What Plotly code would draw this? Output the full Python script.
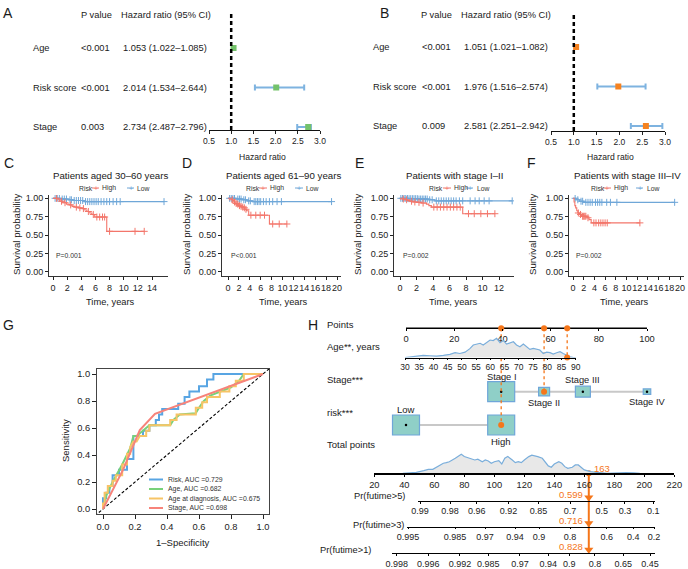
import plotly.graph_objects as go

W, H = 688, 569
FONT = "Liberation Sans, Arial, Helvetica, sans-serif"
INK = "#1a1a1a"
RED = "#f3766b"
BLUE = "#6fa7d8"
ORANGE = "#f5761a"

# ======================= DATA =======================
# A / B : Cox regression
cox_vars = ["Age", "Risk score", "Stage"]
A_pval = ["<0.001", "<0.001", "0.003"]
A_hr = [1.053, 2.014, 2.734]
A_low = [1.022, 1.534, 2.487]
A_high = [1.085, 2.644, 2.796]
B_pval = ["<0.001", "<0.001", "0.009"]
B_hr = [1.051, 1.976, 2.581]
B_low = [1.021, 1.516, 2.251]
B_high = [1.082, 2.574, 2.942]
hr_ticks = [0.5, 1.0, 1.5, 2.0, 2.5, 3.0]

# C-F : Kaplan-Meier curves (step times / survival, censor times)
C_high_t = [0, 0.7, 1.0, 1.4, 1.9, 2.3, 2.7, 3.1, 3.6, 4.1, 4.5, 4.8, 5.2, 5.5, 5.9, 7.6, 12.9]
C_high_s = [1.0, 0.98, 0.96, 0.94, 0.92, 0.91, 0.89, 0.88, 0.87, 0.86, 0.84, 0.82, 0.80, 0.78, 0.745, 0.55, 0.55]
C_high_c = [0.5, 1.2, 1.7, 2.5, 3.3, 3.8, 4.3, 5.0, 5.7, 6.2, 6.6, 7.0, 7.3, 8.0, 11.6, 12.9]
C_low_t = [0, 1.0, 2.2, 2.8, 4.4, 15.7]
C_low_s = [1.0, 0.99, 0.98, 0.97, 0.955, 0.955]
C_low_c = [0.3, 0.6, 0.9, 1.3, 1.6, 1.9, 2.4, 2.6, 3.0, 3.3, 3.6, 3.9, 4.2, 4.6, 4.9, 5.2, 5.5,
           5.8, 6.1, 6.4, 6.8, 7.2, 7.6, 8.0, 8.5, 9.0, 9.5, 15.7]

D_high_t = [0, 0.6, 0.9, 1.1, 1.3, 1.6, 1.9, 2.2, 2.5, 2.8, 3.1, 3.4, 3.8, 7.6, 10.8]
D_high_s = [1.0, 0.98, 0.97, 0.95, 0.93, 0.92, 0.90, 0.89, 0.88, 0.87, 0.85, 0.83, 0.77, 0.65, 0.65]
D_high_c = [0.8, 1.2, 1.5, 1.8, 2.1, 2.4, 2.7, 3.0, 3.3, 4.2, 5.1, 5.9, 6.7, 8.2, 9.4, 10.8]
D_low_t = [0, 1.5, 2.6, 3.5, 4.5, 19.0]
D_low_s = [1.0, 0.99, 0.98, 0.965, 0.955, 0.955]
D_low_c = [0.3, 0.6, 0.9, 1.2, 1.8, 2.1, 2.4, 2.9, 3.2, 3.8, 4.1, 4.8, 5.1, 5.4, 5.7, 6.0, 6.5,
           7.0, 7.6, 8.2, 9.0, 9.8, 19.0]

E_high_t = [0, 0.3, 0.6, 0.9, 1.2, 1.6, 2.0, 2.6, 3.2, 3.5, 3.8, 7.6, 11.5]
E_high_s = [1.0, 0.99, 0.98, 0.97, 0.96, 0.95, 0.945, 0.935, 0.92, 0.90, 0.88, 0.79, 0.79]
E_high_c = [0.4, 0.8, 1.4, 1.8, 2.3, 2.8, 4.1, 4.5, 4.9, 5.3, 5.7, 6.1, 6.5, 6.9, 7.3, 8.3, 9.0,
            9.8, 10.6, 11.5]
E_low_t = [0, 1.0, 2.2, 3.4, 4.2, 13.6]
E_low_s = [1.0, 0.995, 0.99, 0.98, 0.965, 0.965]
E_low_c = [0.1, 0.3, 0.5, 0.7, 0.9, 1.1, 1.3, 1.5, 1.7, 1.9, 2.1, 2.3, 2.5, 2.7, 2.9, 3.1, 3.3,
           3.6, 3.9, 4.4, 4.7, 5.0, 5.3, 5.6, 5.9, 6.2, 6.5, 6.8, 7.2, 7.6, 8.5, 9.1, 9.6, 10.2,
           10.8, 13.6]

F_high_t = [0, 0.2, 0.35, 0.5, 0.7, 0.9, 1.2, 1.6, 2.6, 3.0, 3.4, 12.5]
F_high_s = [1.0, 0.95, 0.90, 0.87, 0.83, 0.80, 0.78, 0.755, 0.735, 0.71, 0.665, 0.665]
F_high_c = [1.0, 1.4, 1.8, 2.0, 2.2, 2.4, 2.8, 3.9, 4.3, 4.8, 5.2, 5.6, 6.0, 6.4, 12.5]
F_low_t = [0, 0.6, 1.2, 2.0, 19.0]
F_low_s = [1.0, 0.98, 0.96, 0.945, 0.945]
F_low_c = [0.4, 0.9, 1.5, 1.8, 2.4, 2.8, 3.2, 3.6, 4.2, 4.6, 5.0, 5.4, 6.3, 7.0, 8.2, 19.0]

km_titles = ["Patients aged 30–60 years", "Patients aged 61–90 years",
             "Patients with stage I–II", "Patients with stage III–IV"]
km_pvals = ["P=0.001", "P<0.001", "P=0.002", "P=0.002"]
km_surv_ticks = [0, 0.25, 0.5, 0.75, 1.0]
km_xmax = [14, 20, 12, 20]

# G : ROC curves
roc_names = ["Risk", "Age", "Age at diagnosis", "Stage"]
roc_auc = [0.729, 0.682, 0.675, 0.698]
roc_risk_fpr = [0, 0, 0.02, 0.02, 0.04, 0.04, 0.06, 0.06, 0.10, 0.10, 0.15, 0.15, 0.19, 0.19, 0.25,
                0.25, 0.29, 0.29, 0.33, 0.33, 0.35, 0.35, 0.37, 0.37, 0.47, 0.47, 0.51, 0.51, 0.54,
                0.54, 0.60, 0.60, 0.65, 0.65, 0.69, 0.69, 1.0]
roc_risk_tpr = [0, 0.08, 0.08, 0.12, 0.12, 0.17, 0.17, 0.25, 0.25, 0.29, 0.29, 0.37, 0.37, 0.54, 0.54,
                0.58, 0.58, 0.62, 0.62, 0.66, 0.66, 0.70, 0.70, 0.74, 0.74, 0.78, 0.78, 0.83, 0.83,
                0.87, 0.87, 0.91, 0.91, 0.96, 0.96, 1.0, 1.0]
roc_age_fpr = [0, 0.02, 0.06, 0.12, 0.17, 0.19, 0.21, 0.25, 0.29, 0.42, 0.44, 0.48, 0.58, 0.60,
               0.63, 0.67, 0.73, 0.80, 0.85, 0.88, 1.0]
roc_age_tpr = [0, 0.10, 0.20, 0.33, 0.45, 0.54, 0.54, 0.58, 0.62, 0.62, 0.66, 0.70, 0.71, 0.75,
               0.80, 0.84, 0.87, 0.90, 0.95, 1.0, 1.0]
roc_dx_fpr = [0, 0, 0.01, 0.01, 0.03, 0.03, 0.06, 0.06, 0.08, 0.08, 0.12, 0.12, 0.15, 0.15, 0.17,
              0.17, 0.19, 0.21, 0.23, 0.27, 0.27, 0.29, 0.29, 0.42, 0.42, 0.46, 0.46, 0.58, 0.58,
              0.62, 0.62, 0.65, 0.65, 0.73, 0.73, 0.79, 0.79, 0.83, 0.83, 0.88, 0.88, 1.0]
roc_dx_tpr = [0, 0.04, 0.04, 0.12, 0.12, 0.17, 0.17, 0.21, 0.21, 0.25, 0.25, 0.33, 0.33, 0.41, 0.41,
              0.46, 0.50, 0.50, 0.54, 0.54, 0.58, 0.58, 0.62, 0.62, 0.66, 0.66, 0.70, 0.70, 0.75,
              0.75, 0.79, 0.79, 0.83, 0.83, 0.87, 0.87, 0.91, 0.91, 0.95, 0.95, 1.0, 1.0]
roc_stage_fpr = [0, 0.125, 0.23, 0.325, 1.0]
roc_stage_tpr = [0, 0.29, 0.585, 0.705, 1.0]
roc_ticks = [0, 0.2, 0.4, 0.6, 0.8, 1.0]

# H : nomogram
points_ticks = [0, 20, 40, 60, 80, 100]
age_ticks = [30, 35, 40, 45, 50, 55, 60, 65, 70, 75, 80, 85, 90]
age_points_at_90 = 70.4
age_dens_x = [30, 31.8, 34.1, 36.4, 38.8, 41.1, 43.5, 45.8, 47.6, 49.3, 51.1, 52.8, 54, 55.2, 56.4,
              57.5, 58.7, 59.9, 61, 62.2, 63.4, 64.6, 65.7, 66.9, 68.1, 69.2, 70.4, 71.6, 72.8,
              73.9, 75.1, 76.3, 77.4, 78.6, 79.8, 81, 82.1, 83.3, 84.5, 85.6, 86.8, 88, 89.2, 90.3]
age_dens_y = [0, 0.04, 0.09, 0.11, 0.09, 0.07, 0.11, 0.16, 0.25, 0.21, 0.28, 0.46, 0.65, 0.70, 0.74,
              0.65, 0.79, 0.91, 0.88, 1.0, 0.77, 0.88, 0.70, 0.77, 0.82, 0.65, 0.56, 0.70, 0.56,
              0.42, 0.47, 0.42, 0.39, 0.21, 0.28, 0.25, 0.18, 0.25, 0.30, 0.21, 0.12, 0.04, 0, 0]
stage_levels = ["Stage I", "Stage II", "Stage III", "Stage IV"]
stage_points = [39.5, 57.3, 73.4, 100]
risk_levels = ["Low", "High"]
risk_points = [0, 39.5]
total_ticks = [20, 40, 60, 80, 100, 120, 140, 160, 180, 200, 220]
tot_dens_x = [39, 44, 48, 53, 56, 59, 62, 64, 66, 68, 70, 74, 77, 78, 80, 83, 85, 87, 89, 92, 94, 96,
              98, 100, 103, 105, 107, 109, 112, 114, 116, 118, 120, 123, 125, 127, 129, 132, 134,
              136, 138, 140, 143, 145, 147, 149, 152, 154, 156, 158, 160, 164, 167, 170, 175, 179,
              184, 188, 193, 197]
tot_dens_y = [0, 0.04, 0.05, 0.14, 0.21, 0.21, 0.35, 0.44, 0.53, 0.56, 0.61, 0.79, 0.96, 1.0, 0.88,
              0.79, 0.74, 0.70, 0.74, 0.61, 0.70, 0.65, 0.53, 0.61, 0.67, 0.49, 0.79, 0.88, 0.70,
              0.56, 0.61, 0.56, 0.70, 0.88, 0.95, 0.93, 0.88, 0.79, 0.61, 0.39, 0.32, 0.49, 0.61,
              0.53, 0.35, 0.26, 0.32, 0.44, 0.44, 0.32, 0.18, 0.09, 0.05, 0.04, 0, 0.02, 0.04, 0.04,
              0.02, 0]
pr5_labels = ["0.99", "0.98", "0.96", "0.92", "0.85", "0.7", "0.5", "0.3", "0.1"]
pr5_at_total = [50.5, 70.5, 88.3, 109.4, 129.4, 150.5, 171.6, 187.1, 206.0]
pr3_labels = ["0.995", "0.985", "0.97", "0.94", "0.9", "0.8", "0.6", "0.4", "0.2"]
pr3_at_total = [42.5, 73.8, 93.8, 113.8, 129.8, 150.5, 175.0, 192.7, 206.5]
pr1_labels = ["0.998", "0.996", "0.992", "0.985", "0.97", "0.94", "0.9", "0.8", "0.65", "0.45"]
pr1_at_total = [34.9, 56.0, 77.1, 96.0, 117.1, 135.9, 149.9, 167.1, 186.0, 203.8]
patient_age = 87
patient_stage = 1
patient_risk = 1
patient_total = 163
patient_pr = [0.599, 0.716, 0.828]

# ======================= HELPERS =======================
def px(p): return p / W
def py(p): return 1 - p / H
def dx(a, b): return [a / W, b / W]
def dy(top, bottom): return [1 - bottom / H, 1 - top / H]
def cal(p0, v0, p1, v1):
    k = (v1 - v0) / (p1 - p0)
    return lambda p: v0 + (p - p0) * k
def xr(p0, v0, p1, v1, a, b):
    f = cal(p0, v0, p1, v1); return [f(a), f(b)]
def yr(p0, v0, p1, v1, top, bottom):
    f = cal(p0, v0, p1, v1); return [f(bottom), f(top)]

def names(i):
    s = "" if i == 1 else str(i)
    return "xaxis" + s, "yaxis" + s, "x" + s, "y" + s

def hidden(**kw):
    d = dict(showgrid=False, zeroline=False, showline=False, showticklabels=False, ticks="",
             fixedrange=True, automargin=False)
    d.update(kw); return d

def vis(size=9, color="#222", **kw):
    d = dict(showgrid=False, zeroline=False, showline=True, linecolor=color, linewidth=1,
             ticks="outside", ticklen=3, tickwidth=1, tickcolor=color, tickangle=0,
             tickfont=dict(size=size, family=FONT, color=color), tickmode="array",
             fixedrange=True, automargin=False)
    d.update(kw); return d

fig = go.Figure()
lay = {}
annotations = []
shapes = []

def ann(text, x, y, size=9.5, xanchor="left", yanchor="middle", color=INK, xref="paper",
        yref="paper", **kw):
    if xref == "paper": x = px(x)
    if yref == "paper": y = py(y)
    annotations.append(dict(text=text, x=x, y=y, xref=xref, yref=yref, xanchor=xanchor,
                            yanchor=yanchor, showarrow=False,
                            font=dict(size=size, color=color, family=FONT), **kw))

def seg(x0, y0, x1, y1, color, width=1):
    shapes.append(dict(type="line", xref="paper", yref="paper", x0=px(x0), x1=px(x1),
                       y0=py(y0), y1=py(y1), line=dict(color=color, width=width)))

# panel letters
for L, (lx, ly) in zip("ABCDEFGH", [(8, 13), (384, 13), (9, 163), (187, 163), (359, 163),
                                    (531, 163), (8, 325), (313, 325)]):
    ann(L, lx, ly, 14, xanchor="center")

# ======================= A / B =======================
def forest(ax, pvals, hr, lo, hi, mcolor, xdom, rows_px, bottom, name_x, p_x, hr_right,
           head_p_x, head_hr_x, title_x):
    xa, ya, xref, yref = names(ax)
    lay[xa] = vis(size=8.5, domain=dx(*xdom), range=[hr_ticks[0], hr_ticks[-1]], anchor=yref,
                  tickvals=hr_ticks, ticktext=[f"{v:.1f}" for v in hr_ticks], linecolor="#111")
    lay[ya] = hidden(domain=dy(8, bottom), range=yr(rows_px[0], 0, rows_px[1], 1, 8, bottom))
    rows = list(range(len(hr)))
    fig.add_trace(go.Scatter(
        x=hr, y=rows, mode="markers", xaxis=xref, yaxis=yref, cliponaxis=False,
        marker=dict(symbol="square", size=6, color=mcolor),
        error_x=dict(type="data", symmetric=False, array=[h - m for h, m in zip(hi, hr)],
                     arrayminus=[m - l for m, l in zip(hr, lo)], color="#7eb3e0",
                     thickness=2, width=3)))
    shapes.append(dict(type="line", xref=xref, x0=1, x1=1, yref=yref + " domain", y0=0,
                       y1=(bottom - 13) / (bottom - 8),
                       line=dict(color="black", width=2.5, dash="4px,3px")))
    ann("P value", head_p_x, 15, 9.3)
    ann("Hazard ratio (95% CI)", head_hr_x, 15, 9.3)
    for i, v in enumerate(cox_vars):
        ann(v, name_x, i, 9.3, yref=yref)
        ann(pvals[i], p_x, i, 9.3, yref=yref)
        ann(f"{hr[i]:.3f} ({lo[i]:.3f}–{hi[i]:.3f})", hr_right, i, 9.3, xanchor="right",
            yref=yref)
    ann("Hazard ratio", title_x, 157, 8.6, xanchor="center")

forest(1, A_pval, A_hr, A_low, A_high, "#74c26b", (209, 320), (48, 87.5), 130,
       31, 79, 209, 79, 119, 262)
forest(2, B_pval, B_hr, B_low, B_high, "#f58220", (551, 665), (47, 86.5), 131,
       371, 420, 550, 419, 459, 610)

# ======================= C - F =======================
def surv_at(ts, ss, t):
    v = ss[0]
    for ti, si in zip(ts, ss):
        if ti <= t:
            v = si
    return v

km_data = [
    (C_high_t, C_high_s, C_high_c, C_low_t, C_low_s, C_low_c),
    (D_high_t, D_high_s, D_high_c, D_low_t, D_low_s, D_low_c),
    (E_high_t, E_high_s, E_high_c, E_low_t, E_low_s, E_low_c),
    (F_high_t, F_high_s, F_high_c, F_low_t, F_low_s, F_low_c),
]
km_geo = [
    dict(dom=(49, 168), p0=53, p1=152, tx=110, ylx=16, xlx=110, ptx=54,
         leg=(77, 92, 99, 100, 127, 134, 135)),
    dict(dom=(222, 341), p0=228, p1=337, tx=283, ylx=186, xlx=283, ptx=229,
         leg=(244, 259, 267, 268, 295, 303, 304)),
    dict(dom=(394, 514), p0=400, p1=499, tx=455, ylx=357, xlx=454, ptx=401,
         leg=(427, 443, 451, 452, 466, 473, 475)),
    dict(dom=(569, 684), p0=573, p1=680, tx=627, ylx=532, xlx=624, ptx=574,
         leg=(589, 603, 611, 612, 636, 643, 645)),
]
for k in range(4):
    ax = 3 + k
    xa, ya, xref, yref = names(ax)
    g = km_geo[k]
    xt = list(range(0, km_xmax[k] + 1, 2))
    lay[xa] = vis(size=9, domain=dx(*g["dom"]), anchor=yref,
                  range=xr(g["p0"], 0, g["p1"], km_xmax[k], *g["dom"]),
                  tickvals=xt, ticktext=[str(v) for v in xt], linecolor="#333")
    lay[ya] = vis(size=9, domain=dy(195, 276), anchor=xref,
                  range=yr(198.3, 1.0, 271.7, 0.0, 195, 276),
                  tickvals=km_surv_ticks, ticktext=[f"{v:.2f}" for v in km_surv_ticks],
                  linecolor="#333")
    ht, hs, hc, lt, ls, lc = km_data[k]
    for ts, ss, cs, col in [(lt, ls, lc, BLUE), (ht, hs, hc, RED)]:
        fig.add_trace(go.Scatter(x=ts, y=ss, mode="lines", line=dict(shape="hv", color=col,
                                 width=1.1), xaxis=xref, yaxis=yref))
        fig.add_trace(go.Scatter(x=cs, y=[surv_at(ts, ss, c) for c in cs], mode="markers",
                                 marker=dict(symbol="cross-thin", size=5,
                                             line=dict(color=col, width=1)),
                                 xaxis=xref, yaxis=yref))
    ann(km_titles[k], g["tx"], 175, 9.7, xanchor="center")
    ann("Survival probability", g["ylx"], 235, 9.7, xanchor="center", textangle=-90)
    ann("Time, years", g["xlx"], 302, 9.3, xanchor="center")
    ann(km_pvals[k], g["ptx"], 255, 6.8, color="#333")
    rx, a0, a1, hx, b0, b1, lx = g["leg"]
    ann("Risk", rx, 188, 6.8, color="#333")
    seg(a0, 188, a1, 188, RED, 1)
    ann("+", (a0 + a1) / 2, 188, 7, xanchor="center", color=RED)
    ann("High", hx, 188, 6.8, color="#333")
    seg(b0, 188, b1, 188, BLUE, 1)
    ann("+", (b0 + b1) / 2, 188, 7, xanchor="center", color=BLUE)
    ann("Low", lx, 188, 6.8, color="#333")

# ======================= G =======================
xa, ya, xref, yref = names(7)
lay[xa] = vis(size=9.3, domain=dx(97, 269), anchor=yref, range=xr(103, 0, 263, 1, 97, 269),
              tickvals=roc_ticks, ticktext=[f"{v:.1f}" for v in roc_ticks], mirror=True,
              linecolor="#444", ticklen=4)
lay[ya] = vis(size=9.3, domain=dy(369, 514), anchor=xref, range=yr(374, 1, 509, 0, 369, 514),
              tickvals=roc_ticks, ticktext=[f"{v:.1f}" for v in roc_ticks], mirror=True,
              linecolor="#444", ticklen=4)
fig.add_trace(go.Scatter(x=[-0.05, 1.05], y=[-0.05, 1.05], mode="lines", xaxis=xref, yaxis=yref,
                         line=dict(color="black", width=1.1, dash="3px,2px")))
roc_cols = ["#58a5e3", "#78d17a", "#f7c466", "#f7837a"]
roc_sets = [(roc_risk_fpr, roc_risk_tpr), (roc_age_fpr, roc_age_tpr),
            (roc_dx_fpr, roc_dx_tpr), (roc_stage_fpr, roc_stage_tpr)]
for (fx, ty), col in zip(roc_sets, roc_cols):
    fig.add_trace(go.Scatter(x=fx, y=ty, mode="lines", xaxis=xref, yaxis=yref,
                             line=dict(color=col, width=2)))
for i, (nm, auc, col) in enumerate(zip(roc_names, roc_auc, roc_cols)):
    yy = 479.5 + i * 9.5
    seg(149, yy, 163, yy, col, 2)
    ann(f"{nm}, AUC ={auc:.3f}", 166, yy, 6.9, color="#333")
ann("Sensitivity", 65, 441, 9.5, xanchor="center", textangle=-90)
ann("1–Specificity", 183, 542, 9.5, xanchor="center")

# ======================= H : nomogram =======================
ROW = dict(points=328.3, age=357.5, stage=391.7, risk=425, total=473.3,
           pr5=501, pr3=526.7, pr1=553.3)
TEAL = "#8fcfc7"
BOXLINE = "#6fa6d9"

lay["xaxis8"] = vis(size=9.3, domain=dx(385, 668), range=xr(406, 0, 647, 100, 385, 668),
                    anchor="free", position=py(ROW["points"]), showline=False, ticklen=2,
                    tickvals=points_ticks, ticktext=[str(v) for v in points_ticks],
                    tickcolor="black")
lay["yaxis8"] = hidden(domain=[0, 1], range=[H, 0], anchor="free", position=0)
fig.add_trace(go.Scatter(x=[points_ticks[0], points_ticks[-1]], y=[ROW["points"]] * 2,
                         mode="lines", line=dict(color="black", width=1.6),
                         xaxis="x8", yaxis="y8"))

lay["xaxis9"] = vis(size=8.5, domain=dx(405, 575.7), range=[age_ticks[0], age_ticks[-1]],
                    anchor="y9", tickvals=age_ticks, ticktext=[str(v) for v in age_ticks],
                    linecolor="black", tickcolor="black", linewidth=1.3, ticklen=1)
lay["yaxis9"] = hidden(domain=dy(333.5, 357.5), range=[0, 24 / 19.2])
fig.add_trace(go.Scatter(x=age_dens_x, y=age_dens_y, mode="lines", fill="tozeroy",
                         fillcolor="#e8e8e8", line=dict(color="#7aaedb", width=1.2),
                         xaxis="x9", yaxis="y9"))
fig.add_trace(go.Scatter(x=[patient_age], y=[0], mode="markers", cliponaxis=False,
                         marker=dict(color=ORANGE, size=6), xaxis="x9", yaxis="y9"))

shapes.append(dict(type="line", xref="x8", yref="y8", layer="below",
                   x0=stage_points[0], x1=stage_points[-1], y0=ROW["stage"], y1=ROW["stage"],
                   line=dict(color="#c8c8c8", width=2)))
shapes.append(dict(type="line", xref="x8", yref="y8", layer="below",
                   x0=risk_points[0], x1=risk_points[-1], y0=ROW["risk"], y1=ROW["risk"],
                   line=dict(color="#c8c8c8", width=2)))
stage_box = [(27, 20), (11, 8.5), (15, 11), (7.5, 5.5)]
risk_box = [(27, 20), (27, 20)]
for pts_list, boxes, row in [(stage_points, stage_box, ROW["stage"]),
                             (risk_points, risk_box, ROW["risk"])]:
    for p, (bw, bh) in zip(pts_list, boxes):
        shapes.append(dict(type="rect", xref="x8", yref="y8", layer="below",
                           xsizemode="pixel", xanchor=p, x0=-bw / 2, x1=bw / 2,
                           ysizemode="pixel", yanchor=row, y0=-bh / 2, y1=bh / 2,
                           fillcolor=TEAL, line=dict(color=BOXLINE, width=1.2)))
    fig.add_trace(go.Scatter(x=pts_list, y=[row] * len(pts_list), mode="markers",
                             marker=dict(color="black", size=2.5), xaxis="x8", yaxis="y8"))

stage_lab_dy = [-14.8, 11, -12, 10]
for nm, p, d in zip(stage_levels, stage_points, stage_lab_dy):
    ann(nm, p, ROW["stage"] + d, 9.3, xanchor="center", xref="x8", yref="y8")
risk_lab_dy = [-16, 16]
for nm, p, d in zip(risk_levels, risk_points, risk_lab_dy):
    ann(nm, p, ROW["risk"] + d, 9.5, xanchor="center", xref="x8", yref="y8")

age_pts = (patient_age - age_ticks[0]) / (age_ticks[-1] - age_ticks[0]) * age_points_at_90
sel = [(age_pts, ROW["age"]), (stage_points[patient_stage], ROW["stage"]),
       (risk_points[patient_risk], ROW["risk"])]
for p, row in sel:
    fig.add_trace(go.Scatter(x=[p, p], y=[ROW["points"], row], mode="lines",
                             line=dict(color=ORANGE, width=1.3, dash="dot"),
                             xaxis="x8", yaxis="y8"))
fig.add_trace(go.Scatter(x=[s[0] for s in sel], y=[ROW["points"]] * 3, mode="markers",
                         marker=dict(color=ORANGE, size=6), xaxis="x8", yaxis="y8"))
fig.add_trace(go.Scatter(x=[s[0] for s in sel[1:]], y=[s[1] for s in sel[1:]], mode="markers",
                         marker=dict(color=ORANGE, size=6), xaxis="x8", yaxis="y8"))

lay["xaxis10"] = vis(size=9.3, domain=dx(374.3, 674.3), range=[total_ticks[0], total_ticks[-1]],
                     anchor="y10", tickvals=total_ticks, ticktext=[str(v) for v in total_ticks],
                     linecolor="black", tickcolor="black", linewidth=1.3, ticklen=2)
lay["yaxis10"] = hidden(domain=dy(449.5, 473.3), range=[0, 23.8 / 19])
fig.add_trace(go.Scatter(x=tot_dens_x, y=tot_dens_y, mode="lines", fill="tozeroy",
                         fillcolor="#e8e8e8", line=dict(color="#7aaedb", width=1.2),
                         xaxis="x10", yaxis="y10"))

tot_px = cal(374.3, 20, 674.3, 220)
pr_axes = [
    (11, pr5_labels, pr5_at_total, (417.7, 655), ROW["pr5"]),
    (12, pr3_labels, pr3_at_total, (406.7, 655), ROW["pr3"]),
    (13, pr1_labels, pr1_at_total, (391.7, 655), ROW["pr1"]),
]
for (ax, labs, pos, (a, b), row), pr in zip(pr_axes, patient_pr):
    lay[f"xaxis{ax}"] = vis(size=9, domain=dx(a, b), range=[tot_px(a), tot_px(b)],
                            anchor="free", position=py(row), tickvals=pos, ticktext=labs,
                            linecolor="black", tickcolor="black", ticklen=1.5)
    fig.add_trace(go.Scatter(x=[patient_total], y=[row - 3.5], mode="markers",
                             marker=dict(symbol="triangle-down", size=8, color=ORANGE),
                             xaxis=f"x{ax}", yaxis="y8"))
    ann(f"{pr:.3f}", patient_total, row - 6.5, 9.5, xanchor="right", color=ORANGE,
        xref="x10", yref="y8", xshift=-4)

fig.add_trace(go.Scatter(x=[patient_total, patient_total], y=[ROW["total"], ROW["pr1"] - 3],
                         mode="lines", line=dict(color=ORANGE, width=2), xaxis="x10", yaxis="y8"))
fig.add_trace(go.Scatter(x=[patient_total], y=[ROW["total"]], mode="markers",
                         marker=dict(color=ORANGE, size=6), xaxis="x10", yaxis="y8"))
ann(str(patient_total), patient_total, ROW["total"] - 5, 9.5, color=ORANGE, xref="x10",
    yref="y8", xshift=3)

ann("Points", 325, 324, 9.5)
ann("Age**, years", 325, 346.5, 9.5)
ann("Stage***", 325, 379, 9.5)
ann("risk***", 325, 412, 9.5)
ann("Total points", 325, 444, 9.5)
ann("Pr(futime>5)", 407, 496, 9.3, xanchor="right")
ann("Pr(futime>3)", 406, 525, 9.3, xanchor="right")
ann("Pr(futime>1)", 373, 550, 9.3, xanchor="right")

lay.update(dict(width=W, height=H, autosize=False,
                margin=dict(l=0, r=0, t=0, b=0, pad=0, autoexpand=False),
                paper_bgcolor="white", plot_bgcolor="rgba(0,0,0,0)", showlegend=False,
                font=dict(family=FONT, size=9.5, color=INK),
                annotations=annotations, shapes=shapes))
fig.update_layout(**lay)
fig.write_html("out.html", config={"displayModeBar": False, "staticPlot": True},
               post_script="document.body.style.margin='0';document.body.style.overflow='hidden';")
